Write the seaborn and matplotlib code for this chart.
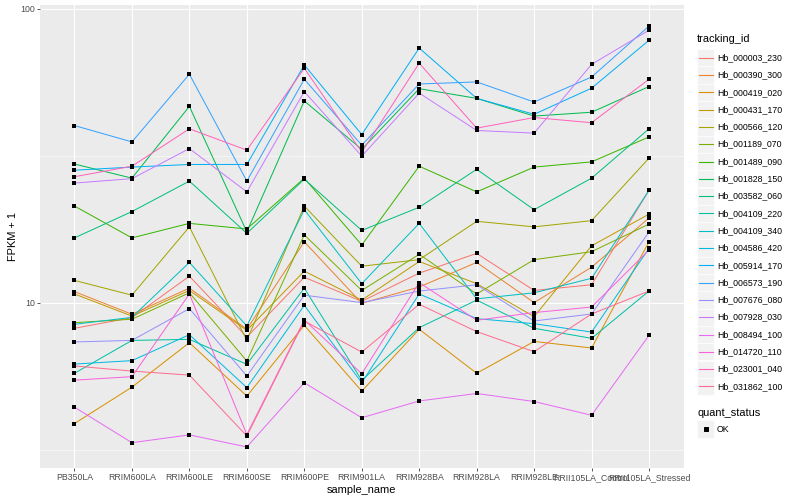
import numpy as np
import pandas as pd
import matplotlib
matplotlib.use("Agg")
import matplotlib.pyplot as plt
from matplotlib.ticker import FixedLocator, NullFormatter
from matplotlib.patches import Rectangle
from matplotlib.lines import Line2D
import seaborn as sns

samples = ["PB350LA", "RRIM600LA", "RRIM600LE", "RRIM600SE", "RRIM600PE", "RRIM901LA",
           "RRIM928BA", "RRIM928LA", "RRIM928LE", "RRII105LA_Control", "RRII105LA_Stressed"]

genes = ["Hb_000003_230", "Hb_000390_300", "Hb_000419_020", "Hb_000431_170", "Hb_000566_120",
         "Hb_001189_070", "Hb_001489_090", "Hb_001828_150", "Hb_003582_060", "Hb_004109_220",
         "Hb_004109_340", "Hb_004586_420", "Hb_005914_170", "Hb_006573_190", "Hb_007676_080",
         "Hb_007928_030", "Hb_008494_100", "Hb_014720_110", "Hb_023001_040", "Hb_031862_100"]

# ggplot hue palette, 20 levels
gene_colors = ["#F8766D", "#EA8331", "#D89000", "#C09B00", "#A3A500", "#7CAE00", "#39B600",
               "#00BB4E", "#00BF7D", "#00C1A3", "#00BFC4", "#00BAE0", "#00B0F6", "#35A2FF",
               "#9590FF", "#C77CFF", "#E76BF3", "#FA62DB", "#FF62BC", "#FF6C91"]

# FPKM + 1, one list per gene, in sample order
hb_000003_230 = [8.18, 8.89, 12.3, 7.64, 12.2, 10.1, 12.6, 14.7, 11.0, 11.5, 24.1]
hb_000390_300 = [10.9, 9.13, 11.2, 8.12, 16.1, 9.95, 11.3, 13.7, 10.0, 13.2, 19.4]
hb_000419_020 = [3.88, 5.16, 7.31, 4.81, 8.37, 5.00, 8.12, 5.75, 7.38, 7.01, 16.1]
hb_000431_170 = [10.7, 9.00, 11.0, 8.05, 12.8, 10.2, 13.8, 11.6, 8.96, 15.6, 20.0]
hb_000566_120 = [11.9, 10.6, 18.1, 7.44, 21.3, 13.3, 14.0, 18.9, 18.1, 19.0, 31.0]
hb_001189_070 = [8.55, 8.78, 10.8, 6.33, 17.0, 11.0, 14.6, 10.7, 14.0, 14.9, 18.5]
hb_001489_090 = [21.3, 16.6, 18.6, 17.8, 26.5, 15.7, 29.1, 23.8, 28.9, 30.1, 36.6]
hb_001828_150 = [29.6, 26.5, 46.5, 17.4, 48.5, 33.2, 53.4, 49.5, 43.1, 44.4, 54.3]
hb_003582_060 = [16.6, 20.4, 25.9, 17.2, 26.3, 17.6, 21.1, 28.4, 20.7, 26.5, 39.0]
hb_004109_220 = [5.75, 7.44, 7.50, 6.17, 11.2, 5.44, 8.22, 10.2, 8.18, 7.56, 10.95]
hb_004109_340 = [8.44, 8.91, 13.7, 8.33, 20.7, 11.6, 18.6, 10.3, 10.8, 12.1, 24.1]
hb_004586_420 = [6.18, 6.35, 7.78, 5.14, 9.79, 5.34, 10.7, 8.82, 8.48, 7.94, 15.3]
hb_005914_170 = [28.2, 28.9, 29.5, 29.5, 64.3, 37.3, 73.4, 49.5, 43.7, 53.6, 78.0]
hb_006573_190 = [40.0, 35.2, 59.8, 25.9, 57.5, 34.3, 55.4, 56.3, 48.1, 58.5, 87.2]
hb_007676_080 = [7.35, 7.44, 9.54, 5.63, 10.6, 10.0, 10.95, 11.5, 8.66, 9.15, 17.4]
hb_007928_030 = [25.5, 26.4, 33.4, 23.8, 52.2, 31.5, 51.6, 38.5, 37.7, 64.6, 84.4]
hb_008494_100 = [4.41, 3.34, 3.55, 3.23, 5.34, 4.06, 4.63, 4.91, 4.61, 4.14, 7.74]
hb_014720_110 = [5.45, 5.60, 10.7, 3.56, 8.73, 5.73, 11.7, 8.71, 9.25, 9.66, 15.1]
hb_023001_040 = [26.8, 29.1, 39.0, 33.0, 62.7, 32.5, 65.2, 39.2, 42.6, 40.9, 57.5]
hb_031862_100 = [6.09, 5.85, 5.67, 3.52, 8.66, 6.79, 9.87, 7.97, 6.81, 9.15, 10.95]

series = [hb_000003_230, hb_000390_300, hb_000419_020, hb_000431_170, hb_000566_120,
          hb_001189_070, hb_001489_090, hb_001828_150, hb_003582_060, hb_004109_220,
          hb_004109_340, hb_004586_420, hb_005914_170, hb_006573_190, hb_007676_080,
          hb_007928_030, hb_008494_100, hb_014720_110, hb_023001_040, hb_031862_100]

rows = []
for g, vals in zip(genes, series):
    for s, v in zip(samples, vals):
        rows.append({"tracking_id": g, "sample_name": s, "fpkm": v, "quant_status": "OK"})
df = pd.DataFrame(rows)

plt.rcParams["font.family"] = ["Liberation Sans", "DejaVu Sans"]

W, H = 800, 500
fig = plt.figure(figsize=(W / 72, H / 72), dpi=72)
ax = fig.add_axes([40 / W, 1 - 468 / H, 643.5 / W, 463 / H])
ax.set_facecolor("#EBEBEB")

sns.lineplot(data=df, x="sample_name", y="fpkm", hue="tracking_id", hue_order=genes,
             palette=gene_colors, sort=False, errorbar=None, lw=1.0, legend=False, ax=ax)
sns.scatterplot(data=df, x="sample_name", y="fpkm", color="black", marker="s", s=12,
                linewidth=0, legend=False, ax=ax, zorder=3)

ax.set_yscale("log")
lo, hi = np.log10(df["fpkm"].min()), np.log10(df["fpkm"].max())
pad = (hi - lo) * 0.05
ax.set_ylim(10 ** (lo - pad), 10 ** (hi + pad))
ax.set_xlim(-0.6, len(samples) - 0.4)

ax.yaxis.set_major_locator(FixedLocator([10, 100]))
ax.set_yticklabels(["10", "100"])
ax.yaxis.set_minor_locator(FixedLocator([10 ** 0.5, 10 ** 1.5]))
ax.yaxis.set_minor_formatter(NullFormatter())
ax.set_xticks(range(len(samples)))
ax.set_xticklabels(samples)

ax.grid(which="major", color="white", lw=1.1)
ax.grid(which="minor", axis="y", color="white", lw=0.55)
ax.set_axisbelow(True)
for sp in ax.spines.values():
    sp.set_visible(False)
ax.tick_params(which="major", length=2.75, width=0.8, color="#333333",
               labelcolor="#4D4D4D", labelsize=8.8, pad=2.2)
ax.tick_params(which="minor", length=0)

ax.set_xlabel("sample_name", fontsize=11, labelpad=3)
ax.set_ylabel("FPKM + 1", fontsize=11, labelpad=2)

# legends drawn in pixel space, ggplot style
lax = fig.add_axes([0, 0, 1, 1], zorder=5)
lax.set_xlim(0, W)
lax.set_ylim(H, 0)
lax.axis("off")

lax.text(697, 39, "tracking_id", fontsize=11, va="center", ha="left")
for i, (g, c) in enumerate(zip(genes, gene_colors)):
    yc = 57.7 + 17.3 * i
    lax.add_patch(Rectangle((697, yc - 8.6), 17.3, 17.2, facecolor="#F2F2F2",
                            edgecolor="white", lw=0.6))
    lax.add_line(Line2D([698.5, 712.5], [yc, yc], color=c, lw=1.1))
    lax.text(717, yc, g, fontsize=8.8, va="center", ha="left")

lax.text(697, 412.5, "quant_status", fontsize=11, va="center", ha="left")
lax.add_patch(Rectangle((697, 429 - 8.6), 17.3, 17.2, facecolor="#F2F2F2",
                        edgecolor="white", lw=0.6))
lax.plot([705.6], [429], marker="s", ms=3.4, color="black", lw=0)
lax.text(717, 429, "OK", fontsize=8.8, va="center", ha="left")

fig.savefig("out.png", dpi=72)
